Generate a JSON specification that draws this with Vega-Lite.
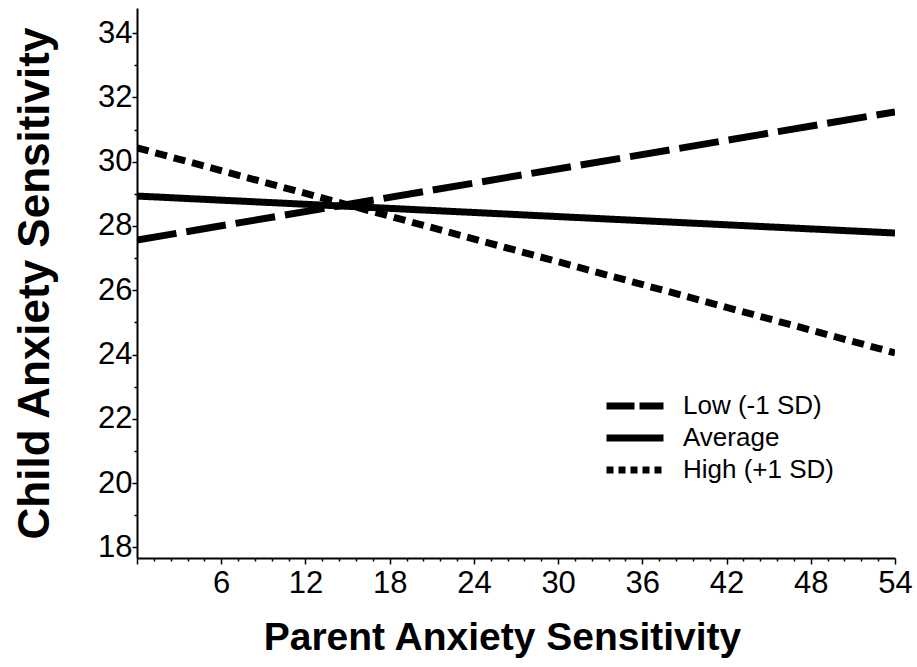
{
  "$schema": "https://vega.github.io/schema/vega-lite/v6.json",
  "autosize": "none",
  "width": 758,
  "height": 550,
  "padding": {"left": 137, "top": 8, "right": 22, "bottom": 109},
  "background": "white",
  "config": {
    "view": {"stroke": null},
    "font": "Liberation Sans"
  },
  "data": {
    "values": [
      {"group": "Low (-1 SD)", "parent": 0, "child": 27.56},
      {"group": "Low (-1 SD)", "parent": 54, "child": 31.55},
      {"group": "Average", "parent": 0, "child": 28.93},
      {"group": "Average", "parent": 54, "child": 27.78},
      {"group": "High (+1 SD)", "parent": 0, "child": 30.43},
      {"group": "High (+1 SD)", "parent": 54, "child": 24.05}
    ]
  },
  "encoding": {
    "x": {
      "field": "parent",
      "type": "quantitative",
      "scale": {"domain": [0, 54], "nice": false, "zero": false},
      "axis": {
        "title": "Parent Anxiety Sensitivity",
        "titleFont": "Liberation Sans",
        "titleFontSize": 39,
        "titleFontWeight": "bold",
        "titleColor": "black",
        "titlePadding": 20,
        "titleX": 365,
        "titleAlign": "center",
        "values": [0, 1.2, 2.4, 3.6, 4.8, 6, 7.2, 8.4, 9.6, 10.8, 12, 13.2, 14.4, 15.6, 16.8, 18, 19.2, 20.4, 21.6, 22.8, 24, 25.2, 26.4, 27.6, 28.8, 30, 31.2, 32.4, 33.6, 34.8, 36, 37.2, 38.4, 39.6, 40.8, 42, 43.2, 44.4, 45.6, 46.8, 48, 49.2, 50.4, 51.6, 52.8, 54],
        "format": "d",
        "labelExpr": "(datum.value > 0 && abs(datum.value / 6 - round(datum.value / 6)) < 0.001) ? datum.label : ''",
        "labelFont": "Liberation Sans",
        "labelFontSize": 31,
        "labelColor": "black",
        "labelPadding": 4,
        "labelFlush": false,
        "labelOverlap": false,
        "grid": false,
        "domainColor": "black",
        "domainWidth": 2,
        "tickColor": "black",
        "tickWidth": 1.5,
        "tickSize": {"condition": {"test": "abs(datum.value / 6 - round(datum.value / 6)) < 0.001", "value": 6}, "value": 3}
      }
    },
    "y": {
      "field": "child",
      "type": "quantitative",
      "scale": {"domain": [17.67, 34.78], "nice": false, "zero": false},
      "axis": {
        "title": "Child Anxiety Sensitivity",
        "titleFont": "Liberation Sans",
        "titleFontSize": 44,
        "titleFontWeight": "bold",
        "titleColor": "black",
        "titlePadding": 40,
        "values": [18, 18.5, 19, 19.5, 20, 20.5, 21, 21.5, 22, 22.5, 23, 23.5, 24, 24.5, 25, 25.5, 26, 26.5, 27, 27.5, 28, 28.5, 29, 29.5, 30, 30.5, 31, 31.5, 32, 32.5, 33, 33.5, 34, 34.5],
        "format": "d",
        "labelExpr": "(datum.value % 2 === 0) ? datum.label : ''",
        "labelFont": "Liberation Sans",
        "labelFontSize": 31,
        "labelColor": "black",
        "labelPadding": 0,
        "labelFlush": false,
        "labelOverlap": false,
        "grid": false,
        "domainColor": "black",
        "domainWidth": 2,
        "tickColor": "black",
        "tickWidth": 1.5,
        "tickSize": {"condition": {"test": "datum.value % 2 === 0", "value": 5}, "value": 3}
      }
    }
  },
  "layer": [
    {
      "mark": {"type": "line", "color": "black", "strokeWidth": 7, "strokeCap": "butt", "clip": true},
      "encoding": {
        "strokeDash": {
          "field": "group",
          "type": "nominal",
          "scale": {
            "domain": ["Low (-1 SD)", "Average", "High (+1 SD)"],
            "range": [[40, 10], [1, 0], [12, 7]]
          },
          "legend": null
        }
      }
    },
    {
      "mark": {"type": "line", "color": "black", "strokeWidth": 7, "opacity": 0, "clip": true},
      "encoding": {
        "strokeDash": {
          "field": "group",
          "type": "nominal",
          "scale": {
            "domain": ["Low (-1 SD)", "Average", "High (+1 SD)"],
            "range": [[28, 5], [1, 0], [7, 5]]
          },
          "legend": {
            "orient": "none",
            "legendX": 480,
            "legendY": 380,
            "title": null,
            "symbolType": "M-2,0H2",
            "symbolSize": 812,
            "symbolStrokeWidth": 7,
            "symbolStrokeColor": "black",
            "symbolFillColor": "transparent",
            "symbolOpacity": 1,
            "labelFont": "Liberation Sans",
            "labelFontSize": 26,
            "labelColor": "black",
            "labelOffset": 30,
            "rowPadding": 0
          }
        }
      }
    }
  ],
  "resolve": {"scale": {"strokeDash": "independent"}, "legend": {"strokeDash": "independent"}}
}
